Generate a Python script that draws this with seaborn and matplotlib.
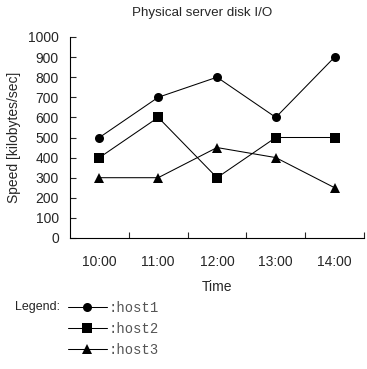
import pandas as pd
import seaborn as sns
import matplotlib.pyplot as plt
from matplotlib.lines import Line2D
from matplotlib.ticker import FixedLocator

# --- data ---
times = ["10:00", "11:00", "12:00", "13:00", "14:00"]
host1 = [500, 700, 800, 600, 900]
host2 = [400, 600, 300, 500, 500]
host3 = [300, 300, 450, 400, 250]
hosts = ["host1", "host2", "host3"]
host_markers = {"host1": "o", "host2": "s", "host3": "^"}

df = pd.DataFrame({
    "Time": times * 3,
    "Speed": host1 + host2 + host3,
    "Host": [h for h in hosts for _ in times],
})

sns.set_style("white")
plt.rcParams["font.family"] = ["Liberation Sans", "DejaVu Sans"]

fig = plt.figure(figsize=(3.67, 3.69), dpi=100)
ax = fig.add_axes([70 / 367, 1 - 238 / 369, 294 / 367, 201 / 369])

sns.lineplot(data=df, x="Time", y="Speed", hue="Host", style="Host",
             palette=["black"] * 3, markers=host_markers, dashes=False,
             markersize=6.5, linewidth=0.75, markeredgewidth=0,
             legend=False, ax=ax)

ax.set_xlim(-0.5, 4.5)
ax.set_ylim(0, 1000)
ax.set_yticks(range(0, 1001, 100))
ax.xaxis.set_minor_locator(FixedLocator([0.5, 1.5, 2.5, 3.5, 4.5]))
ax.tick_params(axis="x", which="major", length=0, pad=12, labelsize=10)
ax.tick_params(axis="x", which="minor", direction="in", length=4, width=0.8,
               bottom=True)
ax.tick_params(axis="y", direction="in", length=4, width=0.8, left=True,
               pad=8, labelsize=10)
for side in ["top", "right"]:
    ax.spines[side].set_visible(False)
for side in ["left", "bottom"]:
    ax.spines[side].set_color("black")
    ax.spines[side].set_linewidth(0.8)

ax.set_title("Physical server disk I/O", fontsize=9.6, pad=15, x=0.449)
ax.set_xlabel("Time", fontsize=10, labelpad=8)
ax.set_ylabel("Speed [kilobytes/sec]", fontsize=10, labelpad=5)

# --- legend below the chart ---
handles = [Line2D([], [], color="black", lw=0.75, marker=host_markers[h],
                  markersize=6.5, markeredgewidth=0) for h in hosts]
fig.text(15 / 367, 1 - 307 / 369, "Legend:", fontsize=9, va="center")
leg = fig.legend(handles, [":" + h for h in hosts], loc="upper left",
                 bbox_to_anchor=(68 / 367, 1 - 301 / 369), frameon=False,
                 borderpad=0, borderaxespad=0, handlelength=2.8,
                 handletextpad=0.1, labelspacing=0.5,
                 prop={"family": "Liberation Mono", "size": 10})
for t in leg.get_texts():
    t.set_color("#555555")

fig.savefig("out.png", dpi=100)
